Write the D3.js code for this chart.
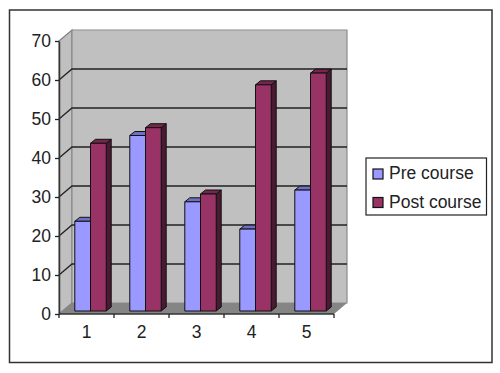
<!DOCTYPE html>
<html>
<head>
<meta charset="utf-8">
<script src="https://cdn.jsdelivr.net/npm/d3@7"></script>
<style>
html, body { margin: 0; padding: 0; background: #fff; }
svg { display: block; }
text { font-family: "Liberation Sans", Arial, sans-serif; fill: #222; }
</style>
</head>
<body>
<div class="chart"></div>
<script>
const categories = ["1", "2", "3", "4", "5"]
const seriesNames = ["Pre course", "Post course"]
const preCourse = [23, 45, 28, 21, 31]
const postCourse = [43, 47, 30, 58, 61]
const yTicks = [0, 10, 20, 30, 40, 50, 60, 70]

const width = 500, height = 373
const plotLeft = 59, plotRight = 334, plotTop = 41, plotBottom = 314
const depthX = 13, depthY = 11   // how far the back wall sits from the front
const barDx = 4, barDy = 3       // bars stand a little behind the front edge
const sideX = 5, sideY = 4       // depth of one bar
const fontSize = 17.5

const colors = {
    pre: { front: "#9999ff", top: "#6f6fc4", side: "#4f4f8a" },
    post: { front: "#993366", top: "#74264d", side: "#4a1a33" }
}

const svg = d3.select(".chart").append("svg")
    .attr("width", width)
    .attr("height", height)

//外框
svg.append("rect")
    .attr("x", 9.5).attr("y", 10)
    .attr("width", 482.5).attr("height", 352.5)
    .attr("fill", "#fff")
    .attr("stroke", "#333")
    .attr("stroke-width", 1.5)

const x = d3.scaleBand().domain(categories).range([plotLeft, plotRight])
const y = d3.scaleLinear().domain([0, 70]).range([plotBottom, plotTop])
const group = d3.scaleBand().domain(seriesNames)
    .range([0, x.bandwidth()])
    .paddingOuter(0.75).paddingInner(0)

const poly = (pts) => "M" + pts.map(p => p.join(",")).join("L") + "Z"

//墙和地面
const walls = svg.append("g")
walls.append("path")
    .attr("d", poly([[plotLeft, y(70)], [plotLeft + depthX, y(70) - depthY], [plotLeft + depthX, y(0) - depthY], [plotLeft, y(0)]]))
    .attr("fill", "#c0c0c0").attr("stroke", "#808080").attr("stroke-width", 1.2)
walls.append("path")
    .attr("d", poly([[plotLeft + depthX, y(70) - depthY], [plotRight + depthX, y(70) - depthY], [plotRight + depthX, y(0) - depthY], [plotLeft + depthX, y(0) - depthY]]))
    .attr("fill", "#c0c0c0").attr("stroke", "#8c8c8c").attr("stroke-width", 1.2)
walls.append("path")
    .attr("d", poly([[plotLeft, y(0)], [plotLeft + depthX, y(0) - depthY], [plotRight + depthX, y(0) - depthY], [plotRight, y(0)]]))
    .attr("fill", "#858585")

//网格线
const grid = svg.append("g")
grid.selectAll("path")
    .data(yTicks.filter(d => d > 0 && d < 70))
    .enter()
    .append("path")
    .attr("fill", "none")
    .attr("stroke", "#222")
    .attr("stroke-width", 1.3)
    .attr("d", d => `M${plotLeft},${y(d)}L${plotLeft + depthX},${y(d) - depthY}L${plotRight + depthX},${y(d) - depthY}`)

//柱子
const drawBars = (values, name, c) => {
    const bars = svg.append("g").selectAll("g").data(values).enter().append("g")
        .attr("stroke", "#111").attr("stroke-width", 1).attr("stroke-linejoin", "round")
    const x0 = (i) => x(categories[i]) + group(name) + barDx
    const x1 = (i) => x0(i) + group.bandwidth()
    const y0 = y(0) - barDy
    const yv = (d) => y(d) - barDy
    bars.append("path").attr("fill", c.side)
        .attr("d", (d, i) => poly([[x1(i), yv(d)], [x1(i) + sideX, yv(d) - sideY], [x1(i) + sideX, y0 - sideY], [x1(i), y0]]))
    bars.append("path").attr("fill", c.top)
        .attr("d", (d, i) => poly([[x0(i), yv(d)], [x0(i) + sideX, yv(d) - sideY], [x1(i) + sideX, yv(d) - sideY], [x1(i), yv(d)]]))
    bars.append("path").attr("fill", c.front)
        .attr("d", (d, i) => poly([[x0(i), yv(d)], [x1(i), yv(d)], [x1(i), y0], [x0(i), y0]]))
}
drawBars(preCourse, seriesNames[0], colors.pre)
drawBars(postCourse, seriesNames[1], colors.post)

//坐标轴
const yAxis = svg.append("g")
    .attr("transform", `translate(${plotLeft},0)`)
    .call(d3.axisLeft(y).tickValues(yTicks).tickSize(4).tickPadding(4).tickSizeOuter(0))
yAxis.selectAll("text").attr("font-size", fontSize)
yAxis.attr("font-family", null)
yAxis.selectAll("line").attr("stroke", "#222").attr("stroke-width", 1.3)
yAxis.select(".domain").attr("stroke", "#333").attr("stroke-width", 1.5)

const xAxis = svg.append("g")
    .attr("transform", `translate(0,${plotBottom})`)
    .call(d3.axisBottom(x).tickSize(0).tickPadding(12))
xAxis.selectAll("text").attr("font-size", fontSize)
xAxis.attr("font-family", null)
xAxis.select(".domain").attr("stroke", "#333").attr("stroke-width", 1.5)
    .attr("d", `M${plotLeft},0H${plotRight}`)
xAxis.selectAll(".edge")
    .data(categories.map(c => x(c)).concat([plotRight]))
    .enter()
    .append("line")
    .attr("class", "edge")
    .attr("x1", d => d).attr("x2", d => d)
    .attr("y1", 0).attr("y2", 4)
    .attr("stroke", "#222").attr("stroke-width", 1.3)

//图例
const legend = svg.append("g").attr("transform", "translate(366,158)")
legend.append("rect")
    .attr("width", 120.5).attr("height", 57)
    .attr("fill", "#fff").attr("stroke", "#222").attr("stroke-width", 1.2)
const legendItems = legend.selectAll(".item")
    .data(seriesNames)
    .enter()
    .append("g")
    .attr("class", "item")
    .attr("transform", (d, i) => `translate(7,${11 + i * 28.5})`)
legendItems.append("rect")
    .attr("width", 10).attr("height", 10)
    .attr("fill", (d, i) => i == 0 ? colors.pre.front : colors.post.front)
    .attr("stroke", "#111").attr("stroke-width", 1.2)
legendItems.append("text")
    .attr("x", 16).attr("y", 10)
    .attr("font-size", fontSize)
    .text(d => d)
</script>
</body>
</html>
